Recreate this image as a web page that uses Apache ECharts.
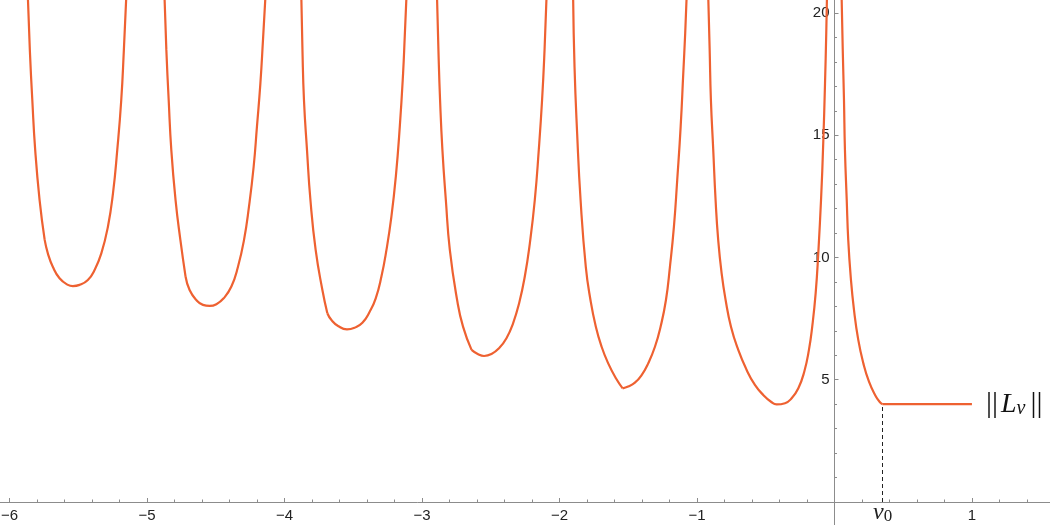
<!DOCTYPE html>
<html>
<head>
<meta charset="utf-8">
<script src="https://cdn.jsdelivr.net/npm/echarts@6/dist/echarts.min.js"></script>
<style>
  html, body { margin: 0; padding: 0; background: #fff; }
  #chart { width: 1050px; height: 525px; }
</style>
</head>
<body>
<div id="chart"></div>
<script>
// axis window
const xMin = -6.07
const xMax = 1.568
const yMin = 0
const yMax = 20.53
const yBelow = -0.94

const xMajorLeft = [-6, -5, -4, -3, -2, -1]
const xMajorRight = [1]
const yMajorTicks = [5, 10, 15, 20]
const nu0 = 0.35
const plateauNorm = 4.0

// branches of ||L_nu||, left arm runs down to the kink, bowl runs up from it
const arm1 = [[-5.867, 20.6], [-5.853, 18.49], [-5.835, 16.44], [-5.814, 14.40], [-5.782, 12.35], [-5.745, 10.72]]
const bowl1 = [[-5.745, 10.72], [-5.722, 10.17], [-5.686, 9.62], [-5.637, 9.15], [-5.576, 8.88], [-5.540, 8.83], [-5.491, 8.88], [-5.431, 9.08], [-5.382, 9.49], [-5.333, 10.17], [-5.285, 11.26], [-5.248, 12.63], [-5.217, 14.40], [-5.188, 16.44], [-5.169, 18.49], [-5.152, 20.6]]
const arm2 = [[-4.873, 20.6], [-4.860, 18.49], [-4.843, 16.44], [-4.824, 14.40], [-4.793, 12.35], [-4.758, 10.72], [-4.720, 9.21]]
const bowl2 = [[-4.720, 9.21], [-4.691, 8.67], [-4.642, 8.26], [-4.594, 8.06], [-4.545, 8.02], [-4.496, 8.09], [-4.443, 8.33], [-4.387, 8.81], [-4.339, 9.62], [-4.295, 10.72], [-4.259, 12.08], [-4.225, 13.71], [-4.201, 15.35], [-4.176, 17.12], [-4.157, 18.90], [-4.140, 20.6]]
const arm3 = [[-3.878, 20.6], [-3.870, 18.49], [-3.859, 16.44], [-3.837, 14.40], [-3.812, 12.35], [-3.774, 10.31], [-3.725, 8.67], [-3.689, 7.72]]
const bowl3 = [[-3.689, 7.72], [-3.659, 7.44], [-3.611, 7.20], [-3.546, 7.06], [-3.490, 7.13], [-3.434, 7.33], [-3.381, 7.78], [-3.337, 8.33], [-3.296, 9.21], [-3.259, 10.31], [-3.223, 11.67], [-3.191, 13.30], [-3.162, 15.35], [-3.138, 17.53], [-3.126, 19.03], [-3.114, 20.6]]
const arm4 = [[-2.891, 20.6], [-2.881, 18.49], [-2.869, 16.44], [-2.852, 14.40], [-2.827, 12.35], [-2.798, 10.31], [-2.745, 8.26], [-2.702, 7.17], [-2.640, 6.22]]
const bowl4 = [[-2.640, 6.22], [-2.592, 6.04], [-2.549, 5.97], [-2.495, 6.05], [-2.440, 6.29], [-2.386, 6.70], [-2.338, 7.31], [-2.294, 8.13], [-2.253, 9.21], [-2.216, 10.58], [-2.180, 12.35], [-2.151, 14.40], [-2.127, 16.44], [-2.109, 18.49], [-2.095, 20.6]]
const arm5 = [[-1.901, 20.6], [-1.891, 17.80], [-1.872, 15.08], [-1.847, 12.35], [-1.809, 9.62], [-1.775, 8.26], [-1.736, 7.17], [-1.694, 6.35], [-1.646, 5.67], [-1.590, 5.06], [-1.541, 4.65]]
const bowl5 = [[-1.541, 4.65], [-1.501, 4.72], [-1.452, 4.88], [-1.403, 5.19], [-1.355, 5.67], [-1.306, 6.35], [-1.265, 7.17], [-1.226, 8.26], [-1.197, 9.62], [-1.168, 11.26], [-1.144, 13.17], [-1.119, 15.35], [-1.100, 17.53], [-1.086, 19.17], [-1.076, 20.6]]
const bowl6 = [[-0.918, 20.6], [-0.908, 18.49], [-0.899, 16.44], [-0.882, 14.40], [-0.865, 12.35], [-0.846, 10.72], [-0.821, 9.35], [-0.792, 8.26], [-0.753, 7.17], [-0.700, 6.22], [-0.639, 5.40], [-0.579, 4.79], [-0.515, 4.36], [-0.462, 4.10], [-0.421, 3.99], [-0.360, 4.04], [-0.312, 4.24], [-0.263, 4.65], [-0.220, 5.33], [-0.186, 6.22], [-0.162, 7.17], [-0.137, 8.54], [-0.118, 10.17], [-0.098, 12.35], [-0.082, 14.67], [-0.069, 17.12], [-0.060, 19.17], [-0.055, 20.6]]
const arm7 = [[0.052, 20.6], [0.060, 18.49], [0.069, 16.44], [0.076, 14.40], [0.089, 12.35], [0.100, 10.72], [0.118, 9.21], [0.142, 7.85], [0.173, 6.63], [0.210, 5.67], [0.251, 4.92], [0.295, 4.38], [0.331, 4.08], [0.350, 4.0]]
const plateau = [[0.350, 4.0], [1.0, 4.0]]

const curveColor = '#ee6131'
const axisGray = '#8c8c8c'
const labelColor = '#222'

const xMinorLeft = []
const xMinorRight = []
const yMinorTicks = []
for (let i = -30; i < 0; i++) if (i % 5 !== 0) xMinorLeft.push(i / 5)
for (let i = 1; i <= 7; i++) if (i % 5 !== 0) xMinorRight.push(i / 5)
for (let i = 1; i < 20; i++) if (i % 5 !== 0) yMinorTicks.push(i)

const minus = v => (v < 0 ? '\u2212' + Math.abs(v) : String(v))
const tickFont = { fontFamily: 'Liberation Sans', fontSize: 15, color: labelColor }

function branch(data, grid, extra) {
  return Object.assign({
    type: 'line',
    data,
    xAxisIndex: grid === 0 ? 0 : 2,
    yAxisIndex: grid === 0 ? 0 : 1,
    showSymbol: false,
    smooth: 0.5,
    clip: true,
    silent: true,
    lineStyle: { color: curveColor, width: 2.2 },
    itemStyle: { color: curveColor },
  }, extra || {})
}

function axis(gridIndex, min, max, position, extra) {
  return Object.assign({
    type: 'value',
    gridIndex,
    min,
    max,
    position,
    splitLine: { show: false },
    axisLine: { onZero: false, lineStyle: { color: axisGray, width: 1 } },
  }, extra)
}

const majorTick = values => ({ inside: true, length: 4, customValues: values, lineStyle: { color: axisGray } })
const minorTick = values => ({ inside: true, length: 2.5, customValues: values, lineStyle: { color: axisGray } })
const hiddenLine = { onZero: false, lineStyle: { opacity: 0 } }

const chart = echarts.init(document.getElementById('chart'), null, { renderer: 'canvas' })

chart.setOption({
  animation: false,
  // left grid holds the negative half, right grid starts at the vertical axis,
  // the thin bottom grid only carries the stub of the vertical axis below zero
  grid: [
    { left: 0, right: 215.5, top: 0, bottom: 23, containLabel: false, outerBoundsMode: 'none' },
    { left: 834.5, right: 0, top: 0, bottom: 23, containLabel: false, outerBoundsMode: 'none' },
    { left: 834.5, width: 1, top: 502, bottom: 0, containLabel: false, outerBoundsMode: 'none' },
  ],
  xAxis: [
    axis(0, xMin, 0, 'bottom', {
      axisTick: majorTick(xMajorLeft),
      axisLabel: Object.assign({ customValues: xMajorLeft, formatter: minus, margin: 6 }, tickFont),
    }),
    axis(0, xMin, 0, 'bottom', { axisLine: hiddenLine, axisTick: minorTick(xMinorLeft), axisLabel: { show: false } }),
    axis(1, 0, xMax, 'bottom', {
      axisTick: majorTick(xMajorRight),
      axisLabel: Object.assign({ customValues: xMajorRight, formatter: minus, margin: 6 }, tickFont),
    }),
    axis(1, 0, xMax, 'bottom', { axisLine: hiddenLine, axisTick: minorTick(xMinorRight), axisLabel: { show: false } }),
    axis(2, 0, 1, 'bottom', { show: false }),
  ],
  yAxis: [
    axis(0, yMin, yMax, 'left', { show: false }),
    axis(1, yMin, yMax, 'left', {
      axisTick: majorTick(yMajorTicks),
      axisLabel: Object.assign({ customValues: yMajorTicks, margin: 5 }, tickFont),
    }),
    axis(1, yMin, yMax, 'left', { axisLine: hiddenLine, axisTick: minorTick(yMinorTicks), axisLabel: { show: false } }),
    axis(2, yBelow, yMin, 'left', { axisTick: { show: false }, axisLabel: { show: false } }),
  ],
  series: [
    branch(arm1, 0), branch(bowl1, 0),
    branch(arm2, 0), branch(bowl2, 0),
    branch(arm3, 0), branch(bowl3, 0),
    branch(arm4, 0), branch(bowl4, 0),
    branch(arm5, 0), branch(bowl5, 0),
    branch(bowl6, 0),
    branch(arm7, 1),
    branch(plateau, 1, {
      smooth: false,
      clip: false,
      endLabel: {
        show: true,
        distance: 11,
        formatter: () => '{b|||}{l|L}{s|\u03bd}{b|||}',
        rich: {
          b: { fontFamily: 'Liberation Serif', fontSize: 30, color: '#111', padding: [0, 3, 0, 3] },
          l: { fontFamily: 'Liberation Serif', fontStyle: 'italic', fontSize: 28, color: '#111' },
          s: { fontFamily: 'Liberation Serif', fontStyle: 'italic', fontSize: 20, lineHeight: 12, verticalAlign: 'bottom', color: '#111', padding: [0, 2, 0, 0] },
        },
      },
      markPoint: {
        silent: true,
        symbol: 'circle',
        symbolSize: 0,
        data: [{ coord: [nu0, 0] }],
        label: {
          show: true,
          position: 'bottom',
          distance: -1,
          formatter: () => '{nu|\u03bd}{sub|0}',
          rich: {
            nu: { fontFamily: 'Liberation Serif', fontStyle: 'italic', fontSize: 24, lineHeight: 24, verticalAlign: 'middle', color: '#222' },
            sub: { fontFamily: 'Liberation Serif', fontSize: 17, lineHeight: 7, verticalAlign: 'bottom', color: '#222' },
          },
        },
      },
      markLine: {
        silent: true,
        symbol: 'none',
        label: { show: false },
        lineStyle: { color: '#222', width: 1, type: [4, 3] },
        data: [[{ coord: [nu0, 0] }, { coord: [nu0, plateauNorm] }]],
      },
    }),
  ],
})
</script>
</body>
</html>
